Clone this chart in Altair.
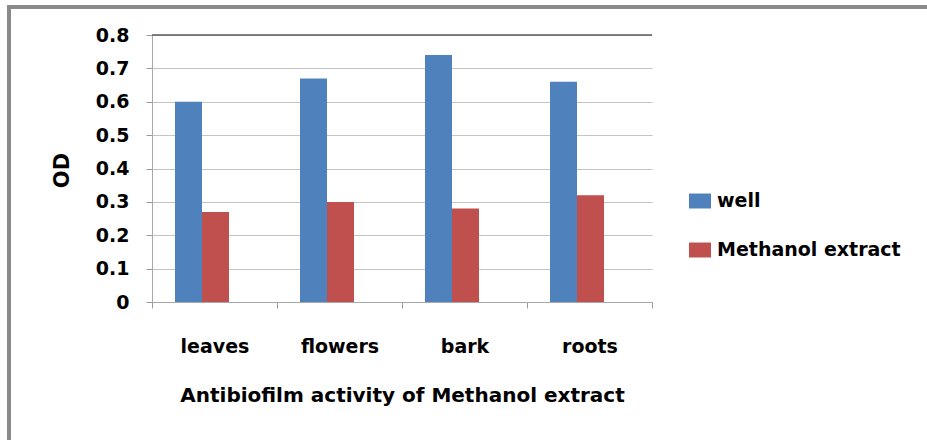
import altair as alt
import pandas as pd

# Optical density readings per plant part
categories = ["leaves", "flowers", "bark", "roots"]
well = [0.60, 0.67, 0.74, 0.66]
methanol = [0.27, 0.30, 0.28, 0.32]
series = ["well", "Methanol extract"]
colors = ["#4F81BD", "#C0504D"]
y_ticks = [0, 0.1, 0.2, 0.3, 0.4, 0.5, 0.6, 0.7, 0.8]

rows = []
for c, a, b in zip(categories, well, methanol):
    rows.append({"part": c, "series": series[0], "od": a})
    rows.append({"part": c, "series": series[1], "od": b})
df = pd.DataFrame(rows)

FONT = "DejaVu Sans"
W, H = 500, 267
LEFT, TOP = 152, 35

bars = alt.Chart(df).mark_bar().encode(
    x=alt.X(
        "part:N",
        sort=categories,
        scale=alt.Scale(paddingInner=0, paddingOuter=0),
        axis=alt.Axis(
            title="Antibiofilm activity of Methanol extract",
            labelAngle=0,
            labelFontSize=19,
            labelFontWeight="bold",
            labelPadding=29,
            tickBand="extent",
            tickSize=6,
            tickColor="#9a9a9a",
            domainColor="#a8a8a8",
            titleFontSize=20,
            titleFontWeight="bold",
            titleX=250,
            titleY=93,
            titleBaseline="middle",
            grid=False,
        ),
    ),
    # the bar pair sits towards the left of each category slot
    xOffset=alt.XOffset(
        "series:N",
        sort=series,
        scale=alt.Scale(range=[23, 77], paddingInner=0, paddingOuter=0),
    ),
    y=alt.Y(
        "od:Q",
        scale=alt.Scale(domain=[0, 0.8], nice=False),
        axis=alt.Axis(
            title="OD",
            values=y_ticks,
            format=".1~f",
            labelFontSize=19,
            labelFontWeight="bold",
            labelPadding=17,
            tickSize=6,
            tickColor="#9a9a9a",
            domainColor="#a8a8a8",
            gridColor="#c4c4c4",
            titleFontSize=21,
            titleFontWeight="bold",
            titleX=-90,
            titleY=135,
            titleAngle=-90,
            titleAlign="center",
            titleBaseline="middle",
        ),
    ),
    color=alt.Color(
        "series:N",
        sort=series,
        scale=alt.Scale(domain=series, range=colors),
        legend=alt.Legend(
            title=None,
            orient="none",
            legendX=537,
            legendY=155,
            symbolType="M-1,-0.68H1V0.68H-1Z",
            symbolSize=484,
            symbolStrokeWidth=0,
            labelFontSize=19,
            labelFontWeight="bold",
            labelOffset=6,
            labelLimit=0,
            rowPadding=28,
        ),
    ),
)

# darker top edge of the plot area
top_line = alt.Chart(pd.DataFrame({"k": [0]})).mark_rule(
    color="#5a5a5a", strokeWidth=1.5
).encode(x=alt.value(0), x2=alt.value(W), y=alt.value(0))

# outer frame: left and top edges
frame_left = alt.Chart(pd.DataFrame({"k": [0]})).mark_rule(
    color="#8a8a8a", strokeWidth=4
).encode(x=alt.value(9 - LEFT), y=alt.value(5 - TOP), y2=alt.value(460 - TOP))
frame_top = alt.Chart(pd.DataFrame({"k": [0]})).mark_rule(
    color="#8a8a8a", strokeWidth=4
).encode(x=alt.value(7 - LEFT), x2=alt.value(940 - LEFT), y=alt.value(7 - TOP))

chart = alt.layer(bars, top_line, frame_left, frame_top).properties(
    width=W,
    height=H,
    autosize=alt.AutoSizeParams(type="none"),
    padding={"left": LEFT, "top": TOP, "right": 927 - LEFT - W, "bottom": 440 - TOP - H},
).configure(
    font=FONT,
).configure_view(
    stroke=None,
).configure_axis(
    labelColor="#000000",
    titleColor="#000000",
).configure_legend(
    labelColor="#000000",
)

chart.save("out.html", embed_options={"renderer": "svg", "actions": False})
